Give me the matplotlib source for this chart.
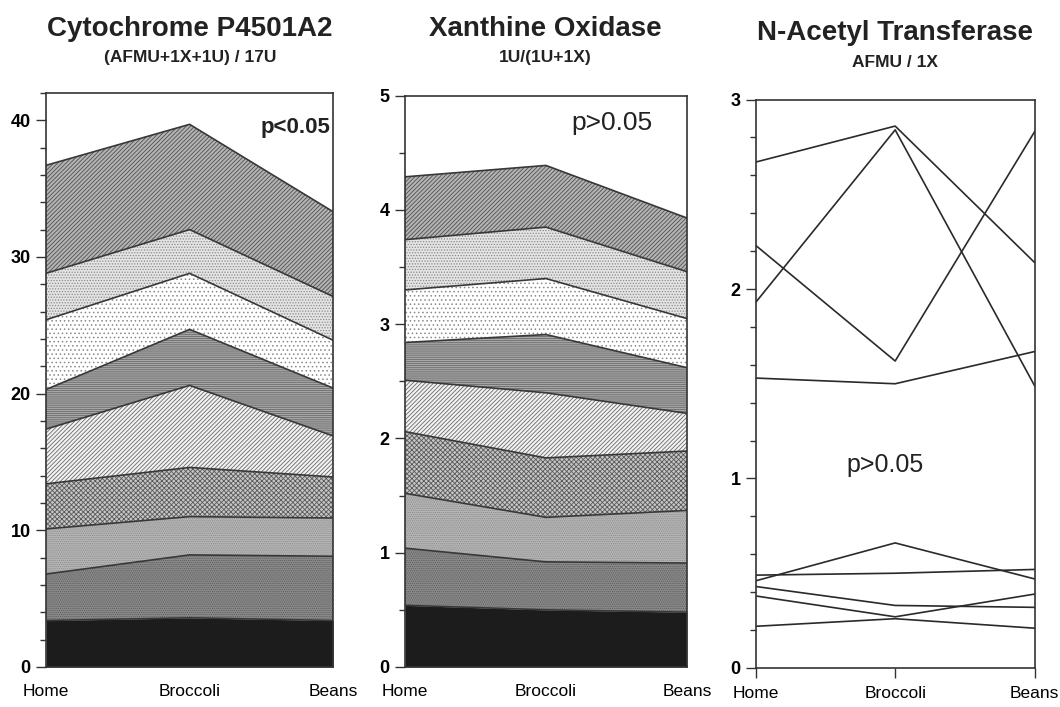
import numpy as np
import matplotlib.pyplot as plt
from matplotlib.ticker import MultipleLocator

plt.rcParams['font.family'] = ['Liberation Sans', 'DejaVu Sans']
plt.rcParams['hatch.linewidth'] = 0.6

diets = ['Home', 'Broccoli', 'Beans']

# CYP1A2 index, one stacked layer per subject (bottom to top)
cyp_layers = [
    [3.4, 3.6, 3.4],
    [3.4, 4.6, 4.7],
    [3.3, 2.8, 2.8],
    [3.3, 3.6, 3.0],
    [4.0, 6.0, 3.0],
    [2.9, 4.1, 3.5],
    [5.1, 4.1, 3.5],
    [3.4, 3.2, 3.2],
    [7.9, 7.7, 6.2],
]

# xanthine oxidase index, same subjects
xo_layers = [
    [0.54, 0.50, 0.48],
    [0.50, 0.42, 0.43],
    [0.48, 0.39, 0.46],
    [0.54, 0.52, 0.52],
    [0.45, 0.57, 0.33],
    [0.33, 0.51, 0.40],
    [0.46, 0.49, 0.43],
    [0.44, 0.45, 0.41],
    [0.55, 0.54, 0.47],
]

# NAT ratio per subject
nat_lines = [
    [2.67, 2.86, 2.14],
    [1.93, 2.84, 1.49],
    [2.23, 1.62, 2.83],
    [1.53, 1.50, 1.67],
    [0.46, 0.66, 0.47],
    [0.49, 0.50, 0.52],
    [0.43, 0.33, 0.32],
    [0.38, 0.27, 0.39],
    [0.22, 0.26, 0.21],
]

# face, hatch, hatch colour for each layer
layer_styles = [
    ('#1c1c1c', None, '#1c1c1c'),
    ('#8c8c8c', '........', '#5a5a5a'),
    ('#b6b6b6', '........', '#8a8a8a'),
    ('#c6c6c6', 'xxxxxxx', '#5a5a5a'),
    ('#f2f2f2', '////////', '#6a6a6a'),
    ('#a8a8a8', '--------', '#6a6a6a'),
    ('#ffffff', '....', '#8a8a8a'),
    ('#e4e4e4', '......', '#8a8a8a'),
    ('#b4b4b4', '////////', '#505050'),
]

x = np.arange(len(diets))
edge = '#333333'

fig = plt.figure(figsize=(10.6, 7.07), dpi=100)
ax1 = fig.add_axes([0.0434, 0.0566, 0.271, 0.812])
ax2 = fig.add_axes([0.382, 0.0566, 0.266, 0.808])
ax3 = fig.add_axes([0.713, 0.0552, 0.263, 0.804])


def stacked(ax, layers):
    base = np.zeros(len(diets))
    for vals, (face, hatch, hcol) in zip(layers, layer_styles):
        top = base + np.array(vals)
        ax.fill_between(x, base, top, facecolor=face, hatch=hatch,
                        edgecolor=hcol, linewidth=0)
        ax.plot(x, top, color='#383838', lw=1.2)
        base = top


def style(ax, ymax, major, minor, labels):
    ax.set_xlim(0, 2)
    ax.set_ylim(0, ymax)
    ax.yaxis.set_minor_locator(MultipleLocator(minor))
    ax.set_yticks([i * major for i in range(len(labels))])
    ax.set_yticklabels(labels, fontweight='bold')
    ax.tick_params(axis='y', which='major', direction='out', length=7,
                   width=1.0, labelsize=13, pad=4, color=edge)
    ax.tick_params(axis='y', which='minor', direction='out', length=4,
                   width=1.0, color=edge)
    ax.set_xticks(x)
    ax.set_xticklabels(diets, fontsize=12.5)
    for sp in ax.spines.values():
        sp.set_color(edge)
        sp.set_linewidth(1.2)


stacked(ax1, cyp_layers)
style(ax1, 42, 10, 2, ['0', '10', '20', '30', '40'])
ax1.tick_params(axis='x', length=0, pad=12)
ax1.text(0.87, 0.94, 'p<0.05', transform=ax1.transAxes, ha='center',
         va='center', fontsize=16, fontweight='bold', color='#222222')

stacked(ax2, xo_layers)
style(ax2, 5, 1, 0.5, ['0', '1', '2', '3', '4', '5'])
ax2.tick_params(axis='x', length=0, pad=12)
ax2.text(0.735, 0.953, 'p>0.05', transform=ax2.transAxes, ha='center',
         va='center', fontsize=19, color='#222222')

for vals in nat_lines:
    ax3.plot(x, vals, color='#2a2a2a', lw=1.2)
style(ax3, 3, 1, 0.2, ['0', '1', '2', '3'])
ax3.tick_params(axis='x', direction='out', length=7, width=1.0, pad=6,
                color=edge)
ax3.text(0.93, 1.07, 'p>0.05', ha='center', va='center', fontsize=18,
         color='#222222')

titles = [
    (0.179, 'Cytochrome P4501A2', '(AFMU+1X+1U) / 17U', 0.949, 0.912),
    (0.514, 'Xanthine Oxidase', '1U/(1U+1X)', 0.949, 0.912),
    (0.844, 'N-Acetyl Transferase', 'AFMU / 1X', 0.943, 0.905),
]
for cx, t, s, ty, sy in titles:
    fig.text(cx, ty, t, ha='center', va='baseline', fontsize=20,
             fontweight='bold', color='#222222')
    fig.text(cx, sy, s, ha='center', va='baseline', fontsize=12.5,
             fontweight='bold', color='#222222')

fig.savefig('out.png', dpi=100)
